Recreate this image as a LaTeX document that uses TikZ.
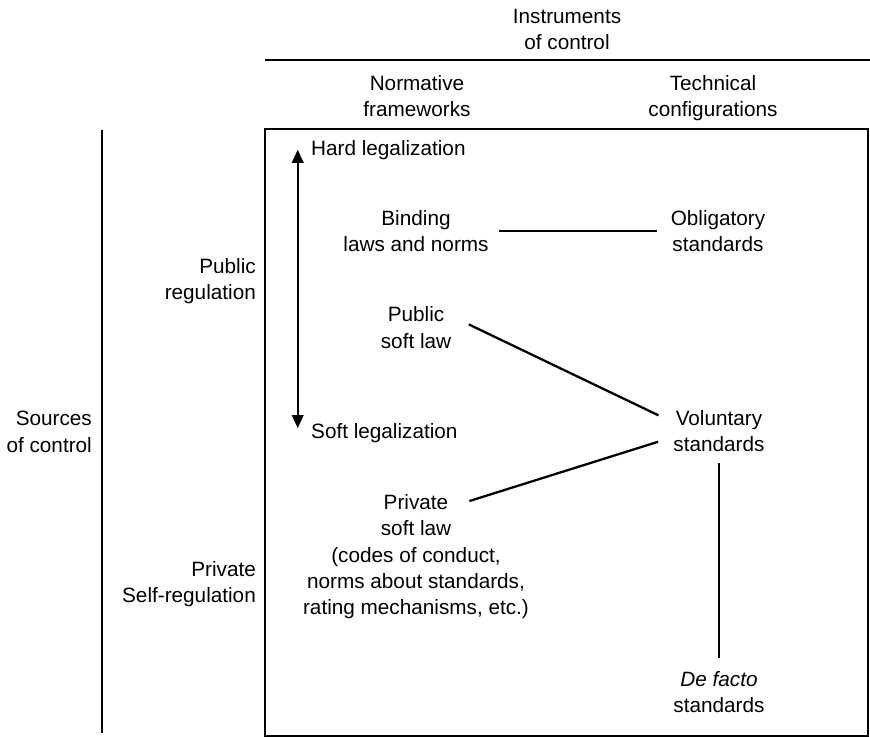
\documentclass[tikz,border=0pt]{standalone}
\usepackage{fontspec}
\setmainfont{Liberation Sans}
\usepackage{tikz}
\usetikzlibrary{arrows.meta,positioning}

\begin{document}
\begin{tikzpicture}[x=0.02cm, y=-0.02cm, line width=1.3pt,
    every node/.append style={font=\fontsize{11.8}{15}\selectfont, inner sep=4pt},
    cell/.style={align=center},
    side/.style={align=right, anchor=east},
    link/.style={line width=1.3pt},
    >={Triangle[length=7.5pt,width=6.5pt]}]
    \useasboundingbox (0,0) rectangle (870,737);
    % frame
    \draw (265,60) -- (870,60);
    \draw (102,130) -- (102,733);
    \draw (265,129) rectangle (868,736);
    % headings
    \node(instrumentsofcontrol)[cell] at (567,29.5) {Instruments\\of control};
    \node(normativeframeworks)[cell] at (417,96) {Normative\\frameworks};
    \node(technicalconfigurations)[cell] at (713,98) {Technical\\configurations};
    \node(publicregulation)[side] at (264,281) {Public\\regulation};
    \node(sourcesofcontrol)[side] at (100,432) {Sources\\of control};
    \node(privateselfregulation)[side] at (264,584) {Private\\Self-regulation};
    % normative frameworks
    \node(hardlegalization)[anchor=base west] at (303,155) {Hard legalization};
    \node(softlegalization)[anchor=base west] at (303,438) {Soft legalization};
    \node(bindinglawsandnorms)[cell] at (416,231) {Binding\\laws and norms};
    \node(publicsoftlaw)[cell] at (416,327.5) {Public\\soft law};
    \node(privatesoftlaw)[cell] at (416,515) {Private\\soft law};
    \node(codesofconduct)[cell] at (416,583) {(codes of conduct,\\norms about standards,\\rating mechanisms, etc.)};
    % technical configurations
    \node(obligatorystandards)[cell] at (718,231) {Obligatory\\standards};
    \node(voluntarystandards)[cell] at (719,431) {Voluntary\\standards};
    \node(defactostandards)[cell] at (719,692) {\textit{De facto}\\standards};
    \draw[<->] ([xshift=-3pt]hardlegalization.west) -- ([xshift=-3pt,yshift=2.5pt]softlegalization.west);
    \draw[link, shorten <=1pt, shorten >=3.2pt] (bindinglawsandnorms) -- (obligatorystandards);
    \draw[link, shorten <=6pt, shorten >=4.3pt] (publicsoftlaw.10) -- (voluntarystandards.167.5);
    \draw[link, shorten <=6pt, shorten >=4.3pt] (privatesoftlaw.14) -- (voluntarystandards.189.4);
    \draw[link, shorten <=2pt, shorten >=3pt] (voluntarystandards) -- (defactostandards);
\end{tikzpicture}
\end{document}
